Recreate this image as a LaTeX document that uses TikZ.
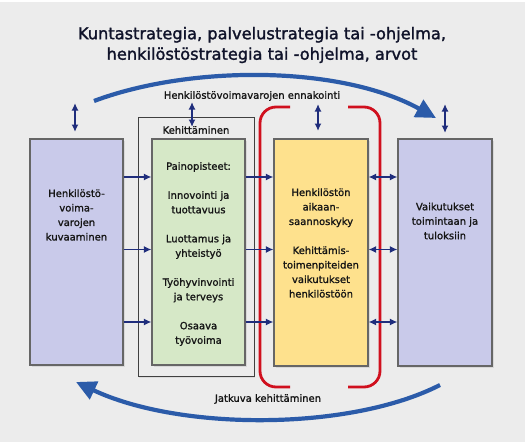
\documentclass[tikz,border=0pt]{standalone}
\usepackage{fontspec}
\setmainfont{DejaVu Sans}
\newfontfamily\lblfont[FakeBold=1.3]{DejaVu Sans}
\newfontfamily\ttlfont[FakeBold=1.6]{DejaVu Sans}
\usetikzlibrary{arrows.meta,shadows}
\definecolor{bg}{HTML}{ECECEC}
\definecolor{lav}{HTML}{C9CAEA}
\definecolor{grn}{HTML}{D6E8C7}
\definecolor{yel}{HTML}{FEE18D}
\definecolor{navy}{HTML}{1F2D7C}
\definecolor{bigblue}{HTML}{2B5BA9}
\definecolor{brk}{HTML}{D0101E}
\definecolor{txt}{HTML}{151515}
\definecolor{ttl}{HTML}{10132A}
\tikzset{
  boxst/.style={draw=black!60, line width=1.1pt, inner sep=0pt,
    drop shadow={opacity=0.18, shadow xshift=1.5pt, shadow yshift=-2pt}},
  lbl/.style={font=\lblfont\fontsize{10}{14.5}\selectfont, text=txt, align=center, inner sep=0pt},
  smallarr/.style={draw=navy, line width=1.9pt, -{Latex[length=7.5pt,width=7pt]}},
  dblarr/.style={draw=navy, line width=1.9pt, {Latex[length=7.5pt,width=7pt]}-{Latex[length=7.5pt,width=7pt]}},
  bigarr/.style={draw=bigblue, line width=4.2pt, -{Triangle[length=20pt,width=19pt]}},
  bracket/.style={draw=brk, line width=2.8pt, rounded corners=16pt}
}
\begin{document}
\begin{tikzpicture}[x=1pt,y=-1pt]
\useasboundingbox (0,0) rectangle (525,444);
\fill[white] (0,0) rectangle (525,444);
\fill[bg] (0,2) rectangle (525,442);

% title
\node[font=\ttlfont\fontsize{16.2}{20.5}\selectfont, text=ttl, align=center] (title) at (262,45)
  {Kuntastrategia, palvelustrategia tai -ohjelma,\\henkilöstöstrategia tai -ohjelma, arvot};

% outer Kehittäminen box
\node[draw=black!75, line width=0.8pt, minimum width=116pt, minimum height=259pt, inner sep=0pt,
  drop shadow={opacity=0.15, shadow xshift=1pt, shadow yshift=-1.5pt}, fill=bg] (K) at (196,246.5) {};
\node[lbl] (Klbl) at (196,130) {Kehittäminen};

% boxes
\node[boxst, fill=lav, minimum width=93pt, minimum height=226pt] (L) at (76.5,252) {};
\node[boxst, fill=grn, minimum width=93pt, minimum height=226pt] (G) at (198.5,252) {};
\node[boxst, fill=yel, minimum width=94pt, minimum height=227pt] (Y) at (321,252.5) {};
\node[boxst, fill=lav, minimum width=94pt, minimum height=227pt] (R) at (445,252.5) {};

% texts
\node[lbl] (Ltxt) at (76.5,215) {Henkilöstö-\\voima-\\varojen\\kuvaaminen};
\node[lbl] (Gtxt) at (198.5,254) {Painopisteet:\\[14.5pt]Innovointi ja\\tuottavuus\\[14.5pt]Luottamus ja\\yhteistyö\\[14.5pt]Työhyvinvointi\\ja terveys\\[14.5pt]Osaava\\työvoima};
\node[lbl] (Ytxt) at (321,243) {Henkilöstön\\aikaan-\\saannoskyky\\[14.5pt]Kehittämis-\\toimenpiteiden\\vaikutukset\\henkilöstöön};
\node[lbl] (Rtxt) at (445,221) {Vaikutukset\\toimintaan ja\\tuloksiin};

% red brackets
\coordinate (b1) at (290,107);
\coordinate (b2) at (260,107);
\coordinate (b3) at (260,387);
\coordinate (b4) at (290,387);
\coordinate (b5) at (348,107);
\coordinate (b6) at (380,107);
\coordinate (b7) at (380,387);
\coordinate (b8) at (348,387);
\draw[bracket] (b1) -- (b2) -- (b3) -- (b4);
\draw[bracket] (b5) -- (b6) -- (b7) -- (b8);

% horizontal arrows
\coordinate (h1) at (0,177);
\coordinate (h2) at (0,249.5);
\coordinate (h3) at (0,322);
\foreach \h in {h1,h2,h3}{
  \draw[smallarr] (L.east |- \h) -- (G.west |- \h);
  \draw[smallarr] (G.east |- \h) -- (Y.west |- \h);
  \draw[dblarr] (Y.east |- \h) -- (R.west |- \h);
}

% vertical double arrows
\coordinate (v1a) at (75,103);  \coordinate (v1b) at (75,132);
\coordinate (v2a) at (192,102); \coordinate (v2b) at (192,127);
\coordinate (v3a) at (318,104); \coordinate (v3b) at (318,131);
\coordinate (v4a) at (445,104); \coordinate (v4b) at (445,133);
\draw[dblarr] (v1a) -- (v1b);
\draw[dblarr] (v2a) -- (v2b);
\draw[dblarr] (v3a) -- (v3b);
\draw[dblarr] (v4a) -- (v4b);

% big curved arrows
\coordinate (ta) at (94,101);
\coordinate (tb) at (436,118);
\draw[bigarr] (ta) .. controls (190,65) and (340,65) .. (tb);
\node[lbl] (Tlbl) at (252,96) {Henkilöstövoimavarojen ennakointi};

\coordinate (ba) at (440,385);
\coordinate (bb) at (76,382);
\draw[bigarr] (ba) .. controls (350,431) and (180,431) .. (bb);
\node[lbl] (Blbl) at (268,399) {Jatkuva kehittäminen};
\end{tikzpicture}
\end{document}
